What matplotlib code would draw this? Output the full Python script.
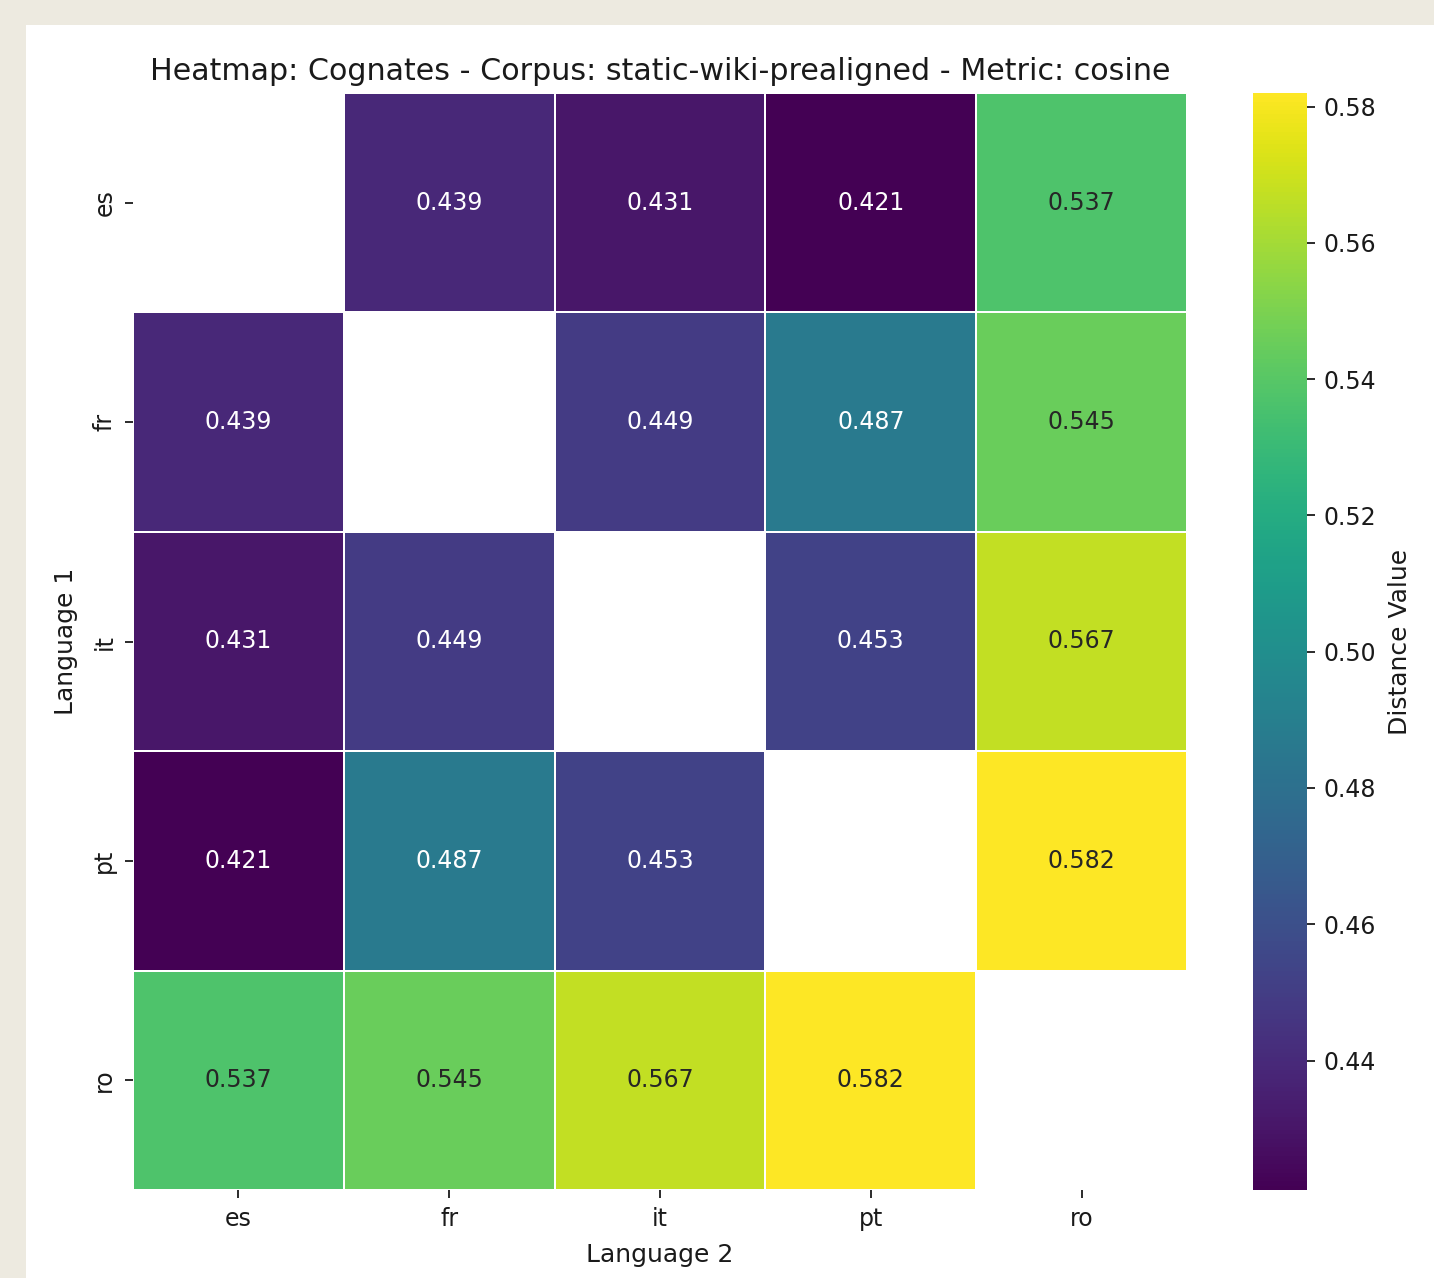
import numpy as np
import pandas as pd
import matplotlib
matplotlib.use("Agg")
import matplotlib.pyplot as plt
import seaborn as sns
from matplotlib.patches import Rectangle

languages = ["es", "fr", "it", "pt", "ro"]

# Pairwise cosine distances (upper triangle, row-major); matrix is symmetric
pair_es = [0.439, 0.431, 0.421, 0.537]   # es-fr, es-it, es-pt, es-ro
pair_fr = [0.449, 0.487, 0.545]          # fr-it, fr-pt, fr-ro
pair_it = [0.453, 0.567]                 # it-pt, it-ro
pair_pt = [0.582]                        # pt-ro

n = len(languages)
mat = np.full((n, n), np.nan)
for i, row in enumerate([pair_es, pair_fr, pair_it, pair_pt]):
    for k, v in enumerate(row):
        j = i + 1 + k
        mat[i, j] = v
        mat[j, i] = v
df = pd.DataFrame(mat, index=languages, columns=languages)

W, H = 1434, 1278
fig = plt.figure(figsize=(W / 100, H / 100), dpi=100)
fig.patch.set_facecolor("white")
# beige margin strips along the top and left edges
for rect in [(0, 1 - 25 / H, 1, 25 / H), (0, 0, 26 / W, 1)]:
    fig.patches.append(Rectangle(rect[:2], rect[2], rect[3],
                                 transform=fig.transFigure, facecolor="#EDEAE0",
                                 edgecolor="none", zorder=-5))

ax = fig.add_axes([133 / W, 1 - 1190 / H, (1187 - 133) / W, (1190 - 93) / H])
cax = fig.add_axes([1253 / W, 1 - 1190 / H, 54 / W, (1190 - 93) / H])

sns.heatmap(df, ax=ax, cbar_ax=cax, cmap="viridis", annot=True, fmt=".3f",
            linewidths=1.4, linecolor="white",
            annot_kws={"fontsize": 17},
            cbar_kws={"label": "Distance Value"})

ax.set_title("Heatmap: Cognates - Corpus: static-wiki-prealigned - Metric: cosine",
             fontsize=21.7, pad=9, color="#1a1a1a")
ax.set_xlabel("Language 2", fontsize=18, labelpad=9, color="#1a1a1a")
ax.set_ylabel("Language 1", fontsize=18, labelpad=10, color="#1a1a1a")
ax.tick_params(axis="both", labelsize=17, length=6, width=1.3, pad=6,
               colors="#1a1a1a")
ax.set_yticklabels(languages, rotation=90, va="center")
ax.set_xticklabels(languages, rotation=0)

cax.tick_params(labelsize=17, length=6, width=1.3, pad=6, colors="#1a1a1a")
cax.set_ylabel("Distance Value", fontsize=18, labelpad=8, color="#1a1a1a")
cax.yaxis.set_major_locator(matplotlib.ticker.MultipleLocator(0.02))
cax.yaxis.set_major_formatter(matplotlib.ticker.FormatStrFormatter("%.2f"))
for s in cax.spines.values():
    s.set_visible(False)

fig.savefig("out.png", dpi=100, facecolor=fig.get_facecolor())
